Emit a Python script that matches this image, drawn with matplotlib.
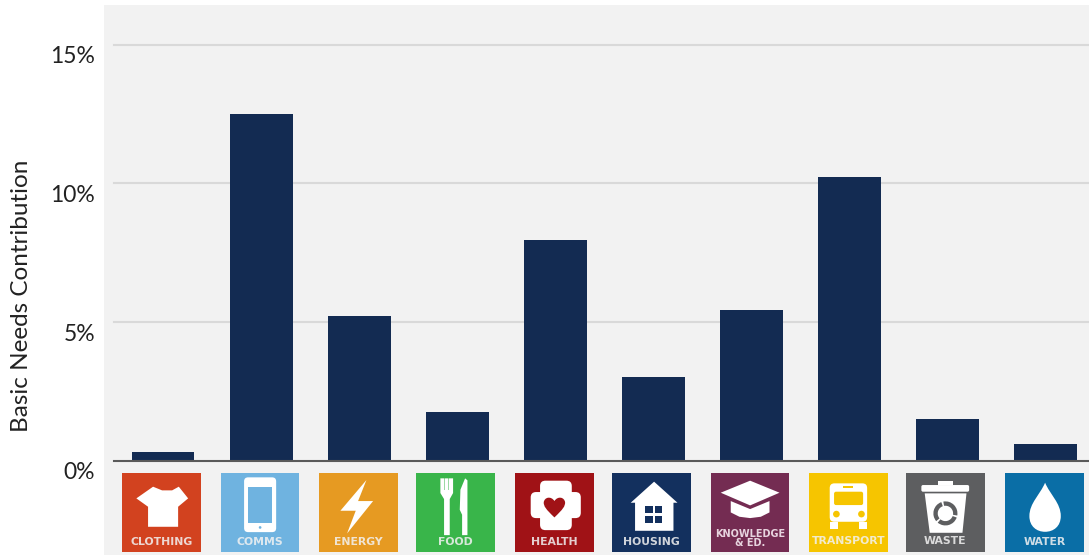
import numpy as np
import matplotlib
matplotlib.use("Agg")
import matplotlib.pyplot as plt
from matplotlib.patches import Polygon, Rectangle, Circle, FancyBboxPatch, PathPatch, Wedge
from matplotlib.path import Path
from matplotlib.transforms import Affine2D, ScaledTranslation

categories = ["Clothing", "Comms", "Energy", "Food", "Health", "Housing",
              "Knowledge & Ed.", "Transport", "Waste", "Water"]
values = [0.3, 12.5, 5.2, 1.75, 7.95, 3.0, 5.45, 10.25, 1.5, 0.6]
y_ticks = [0, 5, 10, 15]
y_tick_labels = ["0%", "5%", "10%", "15%"]
y_title = "Basic Needs Contribution"
icon_labels = ["CLOTHING", "COMMS", "ENERGY", "FOOD", "HEALTH", "HOUSING",
               "KNOWLEDGE\n& ED.", "TRANSPORT", "WASTE", "WATER"]
icon_colors = ["#d2421f", "#6fb3e0", "#e69a22", "#39b54a", "#a01216",
               "#13305e", "#742c52", "#f6c500", "#5d5e60", "#0a6ea6"]
icon_left = [122, 220.7, 319, 416, 515, 612, 710.7, 809, 906, 1005]

W, H = 1089, 555
BAR = "#132b52"
plt.rcParams["font.family"] = ["Lato", "DejaVu Sans"]
fig = plt.figure(figsize=(W / 100, H / 100), dpi=100, facecolor="white")

# main axes = grey panel
ax = fig.add_axes([104 / W, 0, (W - 104) / W, (H - 4.5) / H], facecolor="#f2f2f2")
ax.set_xlim(-0.603, 9.445)
ax.set_ylim(-3.41, 16.46)
for s in ax.spines.values():
    s.set_visible(False)
xfrac = 10 / (W - 104)
for t in y_ticks[1:]:
    ax.axhline(t, xmin=xfrac, color="#d9d9d9", lw=1.5, zorder=1)
ax.bar(np.arange(len(values)), values, width=0.64, color=BAR, zorder=2)
ax.axhline(0, xmin=xfrac, color="#5a5a5a", lw=1.5, zorder=3)
ax.set_xticks([])
ax.set_yticks(y_ticks)
ax.set_yticklabels(y_tick_labels, fontsize=16.5, color="#222222")
ax.tick_params(axis="y", length=0, pad=6.5)
shift = ScaledTranslation(0, -7.2 / 72, fig.dpi_scale_trans)
for lab in ax.get_yticklabels():
    lab.set_transform(lab.get_transform() + shift)
fig.text(22 / W, 1 - 296 / H, y_title, rotation=90, ha="center", va="center",
         fontsize=17.5, color="#222222")

# overlay in pixel coordinates for the icon tiles
ov = fig.add_axes([0, 0, 1, 1], facecolor="none")
ov.set_xlim(0, W)
ov.set_ylim(H, 0)
ov.axis("off")

WHITE = "white"


def round_rect(x0, y0, x1, y1, r, color, tr, z=6):
    return FancyBboxPatch((x0 + r, y0 + r), x1 - x0 - 2 * r, y1 - y0 - 2 * r,
                          boxstyle=f"round,pad={r}", fc=color, ec="none",
                          transform=tr, zorder=z)


def draw_icon(i, tr, bg):
    add = ov.add_patch
    if i == 0:
        add(Polygon([(93, 41), (120, 52), (150, 52), (170, 41), (198, 76), (168, 101),
                     (168, 161), (78, 161), (78, 101), (43, 76)], fc=WHITE, ec="none",
                    transform=tr, zorder=6))
    elif i == 1:
        add(round_rect(70, 13, 166, 177, 12, WHITE, tr))
        add(Rectangle((83, 41), 72, 108, fc=bg, ec="none", transform=tr, zorder=7))
        add(Circle((118, 163), 4, fc=bg, ec="none", transform=tr, zorder=7))
    elif i == 2:
        add(Polygon([(142, 21), (64, 113), (110, 113), (84, 181), (162, 84), (117, 84)],
                    fc=WHITE, ec="none", transform=tr, zorder=6))
    elif i == 3:
        add(Polygon([(73, 16), (111, 16), (111, 60), (101, 78), (101, 186), (84, 186),
                     (84, 78), (73, 60)], fc=WHITE, ec="none", transform=tr, zorder=6))
        for x in (84, 96):
            add(Rectangle((x, 16), 3, 34, fc=bg, ec="none", alpha=.5, transform=tr, zorder=7))
        add(Polygon([(147, 16), (154, 22), (154, 186), (138, 186), (138, 125), (131, 110),
                     (133, 50)], fc=WHITE, ec="none", transform=tr, zorder=6))
    elif i == 4:
        add(round_rect(75, 23, 170, 171, 16, WHITE, tr))
        add(round_rect(47, 57, 197, 135, 16, WHITE, tr))
        verts = [(118, 133), (92, 108), (86, 100), (86, 88), (88, 72), (108, 68), (118, 84),
                 (128, 68), (148, 72), (150, 88), (150, 100), (144, 108), (118, 133)]
        codes = [Path.MOVETO] + [Path.CURVE4] * 12
        add(PathPatch(Path(verts, codes), fc=bg, ec="none", transform=tr, zorder=7))
    elif i == 5:
        add(Polygon([(126, 26), (196, 89), (184, 89), (184, 173), (69, 173), (69, 89), (56, 89)],
                    fc=WHITE, ec="none", transform=tr, zorder=6))
        for x in (99, 128):
            for y in (99, 128):
                add(Rectangle((x, y), 23, 22, fc=bg, ec="none", transform=tr, zorder=7))
    elif i == 6:
        add(Polygon([(60, 84), (118, 108), (176, 84), (176, 118), (150, 131), (118, 135),
                     (86, 131), (60, 118)], fc=WHITE, ec="none", transform=tr, zorder=6))
        add(Polygon([(118, 23), (206, 59), (118, 97), (30, 59)], fc=WHITE, ec="none",
                    transform=tr, zorder=6))
    elif i == 7:
        add(round_rect(62, 31, 174, 146, 14, WHITE, tr))
        add(round_rect(75, 56, 162, 96, 6, bg, tr, z=7))
        add(Rectangle((102, 38), 30, 8, fc=bg, ec="none", transform=tr, zorder=7))
        for x in (82, 157):
            add(Circle((x, 123), 10, fc=bg, ec="none", transform=tr, zorder=7))
        for x in (64, 150):
            add(Rectangle((x, 146), 23, 23, fc=WHITE, ec="none", transform=tr, zorder=6))
    elif i == 8:
        add(round_rect(46, 36, 189, 56, 5, WHITE, tr))
        add(Rectangle((96, 23), 45, 13, fc=WHITE, ec="none", transform=tr, zorder=6))
        add(Polygon([(56, 61), (181, 61), (169, 179), (71, 179)], fc=WHITE, ec="none",
                    transform=tr, zorder=6))
        for a, b in ((20, 130), (140, 250), (260, 370)):
            add(Wedge((118, 121), 36, a, b, width=13, fc=bg, ec="none", transform=tr, zorder=7))
    elif i == 9:
        verts = [(120, 29), (105, 65), (73, 90), (73, 129), (73, 160), (95, 176), (120, 176),
                 (145, 176), (167, 160), (167, 129), (167, 90), (135, 65), (120, 29)]
        codes = [Path.MOVETO] + [Path.CURVE4] * 12
        add(PathPatch(Path(verts, codes), fc=WHITE, ec="none", transform=tr, zorder=6))


ICON_PX = 78.5
for i, (lab, col, left) in enumerate(zip(icon_labels, icon_colors, icon_left)):
    tr = Affine2D().scale(ICON_PX / 235).translate(left, 473) + ov.transData
    ov.add_patch(Rectangle((0, 0), 235, 235, fc=col, ec="none", transform=tr, zorder=5))
    draw_icon(i, tr, col)
    u = ICON_PX / 235
    if "\n" in lab:
        ov.text(left + 118 * u, 473 + 196 * u, lab, ha="center", va="center", color="#f4e6ee",
                fontsize=7.0, fontweight="bold", family="DejaVu Sans", linespacing=0.95,
                alpha=0.9, zorder=8)
    else:
        yy = 203 if lab in ("TRANSPORT", "WASTE") else 208
        ov.text(left + 118 * u, 473 + yy * u, lab, ha="center", va="center", color="#f2f2f2",
                fontsize=7.8, fontweight="bold", family="DejaVu Sans", alpha=0.85, zorder=8)

fig.savefig("out.png", dpi=100, facecolor="white")
